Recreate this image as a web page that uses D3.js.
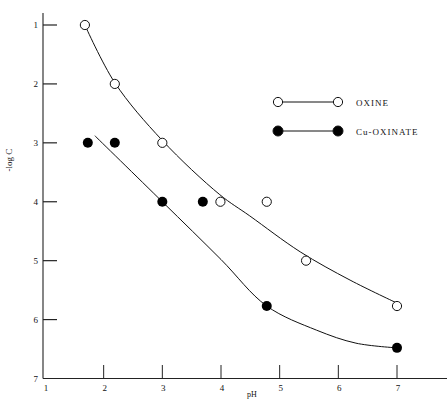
<!DOCTYPE html>
<html><head><meta charset="utf-8">
<script src="https://cdn.jsdelivr.net/npm/d3@7"></script>
<style>body{margin:0;background:#fff}svg{display:block}text{font-family:"Liberation Serif","DejaVu Serif",serif;fill:#111}</style>
</head><body><svg id="c" width="447" height="400"></svg>
<script>
const xTicks = [1,2,3,4,5,6,7];
const yTicks = [1,2,3,4,5,6,7];
const oxinePH = [1.68,2.19,3.0,3.99,4.78,5.45,7.0];
const oxineLogC = [1.0,2.0,3.0,4.0,4.0,5.0,5.77];
const cuPH = [1.73,2.19,3.0,3.69,4.78,7.0];
const cuLogC = [3.0,3.0,4.0,4.0,5.77,6.48];
const oxineFitPH = [1.68,2.19,3.0,3.98,4.49,5.35,6.2,7.0];
const oxineFitLogC = [1.0,1.98,2.96,3.88,4.24,4.85,5.33,5.72];
const cuFitPH = [1.85,3.0,4.0,4.78,5.63,6.3,7.0];
const cuFitLogC = [2.88,4.0,4.98,5.77,6.18,6.4,6.48];
const legendLabels = ["OXINE","Cu-OXINATE"];

const svg = d3.select("#c");
const x = d3.scaleLinear().domain([1,7]).range([45,397]);
const y = d3.scaleLinear().domain([1,7]).range([25,378.5]);

svg.append("line").attr("x1",43).attr("x2",43).attr("y1",13).attr("y2",378.5).attr("stroke","#222").attr("stroke-width",1.1);
svg.append("line").attr("x1",43).attr("x2",447).attr("y1",378.5).attr("y2",378.5).attr("stroke","#222").attr("stroke-width",1.2);

svg.selectAll(".yt").data(yTicks.filter(d=>d<7)).enter().append("line")
  .attr("x1",43).attr("x2",57).attr("y1",d=>y(d)).attr("y2",d=>y(d)).attr("stroke","#222").attr("stroke-width",1.2);
svg.selectAll(".yl").data(yTicks).enter().append("text")
  .attr("x",38).attr("y",d=>y(d)+3).attr("text-anchor","end").attr("font-size",9).text(d=>d);
svg.selectAll(".xt").data(xTicks.filter(d=>d>1)).enter().append("line")
  .attr("x1",d=>x(d)).attr("x2",d=>x(d)).attr("y1",365).attr("y2",378.5).attr("stroke","#222").attr("stroke-width",1);
svg.selectAll(".xl").data(xTicks).enter().append("text")
  .attr("x",d=>x(d)+1).attr("y",391).attr("text-anchor","middle").attr("font-size",9).text(d=>d);

svg.append("text").attr("x",252).attr("y",397).attr("text-anchor","middle").attr("font-size",8).text("pH");
svg.append("text").attr("transform","translate(12,160) rotate(-90)").attr("text-anchor","middle").attr("font-size",9).text("-log C");

const line = d3.line().x(d=>x(d[0])).y(d=>y(d[1])).curve(d3.curveCatmullRom.alpha(0.5));
svg.append("path").attr("d",line(oxineFitPH.map((p,i)=>[p,oxineFitLogC[i]]))).attr("fill","none").attr("stroke","#111").attr("stroke-width",1);
svg.append("path").attr("d",line(cuFitPH.map((p,i)=>[p,cuFitLogC[i]]))).attr("fill","none").attr("stroke","#111").attr("stroke-width",1);

svg.selectAll(".ox").data(oxinePH.map((p,i)=>[p,oxineLogC[i]])).enter().append("circle")
  .attr("cx",d=>x(d[0])).attr("cy",d=>y(d[1])).attr("r",4.6).attr("fill","#fff").attr("stroke","#111").attr("stroke-width",1);
svg.selectAll(".cu").data(cuPH.map((p,i)=>[p,cuLogC[i]])).enter().append("circle")
  .attr("cx",d=>x(d[0])).attr("cy",d=>y(d[1])).attr("r",5).attr("fill","#000");

const lg = [{y:102,filled:false},{y:131,filled:true}];
lg.forEach((l,i)=>{
  svg.append("line").attr("x1",278).attr("x2",338).attr("y1",l.y).attr("y2",l.y).attr("stroke","#111").attr("stroke-width",1);
  [278,338].forEach(cx=>{
    svg.append("circle").attr("cx",cx).attr("cy",l.y).attr("r",l.filled?5:4.6)
      .attr("fill",l.filled?"#000":"#fff").attr("stroke","#111").attr("stroke-width",1);
  });
  svg.append("text").attr("x",356).attr("y",l.y+3.5).attr("font-size",9).attr("letter-spacing",1).text(legendLabels[i]);
});
</script></body></html>
